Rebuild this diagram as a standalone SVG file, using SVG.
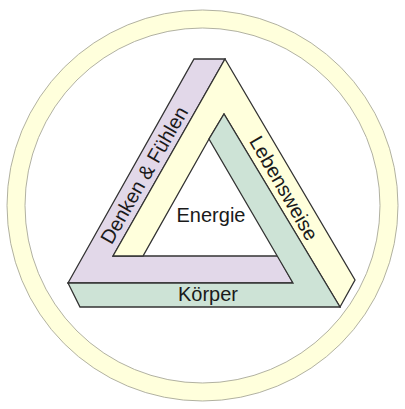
<svg xmlns="http://www.w3.org/2000/svg" width="405" height="409" viewBox="0 0 405 409">
  <style>
    .band { stroke: #333333; stroke-width: 1.3; stroke-linejoin: miter; }
    .purple { fill: #e2d8e9; }
    .yellow { fill: #ffffdc; }
    .green { fill: #cde3d6; }
    .lbl { font-family: "Liberation Sans", Arial, sans-serif; font-size: 20px; fill: #1a1a1a; text-anchor: middle; }
  </style>
  <rect width="405" height="409" fill="#ffffff"/>
  <g id="ring">
    <path d="M 7 205.5 A 195.5 195.5 0 1 0 398 205.5 A 195.5 195.5 0 1 0 7 205.5 Z M 25 205.5 A 177.5 177.5 0 1 1 380 205.5 A 177.5 177.5 0 1 1 25 205.5 Z" fill="#ffffdc" fill-rule="evenodd" stroke="#a8a898" stroke-width="0.9"/>
  </g>
  <g id="connectors"></g>
  <g id="denken-fuehlen">
    <polygon class="band purple" points="194,59 225,59 113,256 278,256 293,283 68,283"/>
    <text class="lbl" transform="translate(144,175) rotate(-60)" x="0" y="7">Denken &amp; Fühlen</text>
  </g>
  <g id="lebensweise">
    <polygon class="band yellow" points="225,59 355,280 340,307 224,114 209,139 143,256 113,256"/>
    <text class="lbl" transform="translate(284,188) rotate(60)" x="0" y="7">Lebensweise</text>
  </g>
  <g id="koerper">
    <polygon class="band green" points="224,114 340,307 80,307 68,283 293,283 209,139"/>
    <text class="lbl" x="208" y="301">Körper</text>
  </g>
  <g id="energie">
    <text class="lbl" x="211" y="222">Energie</text>
  </g>
</svg>
